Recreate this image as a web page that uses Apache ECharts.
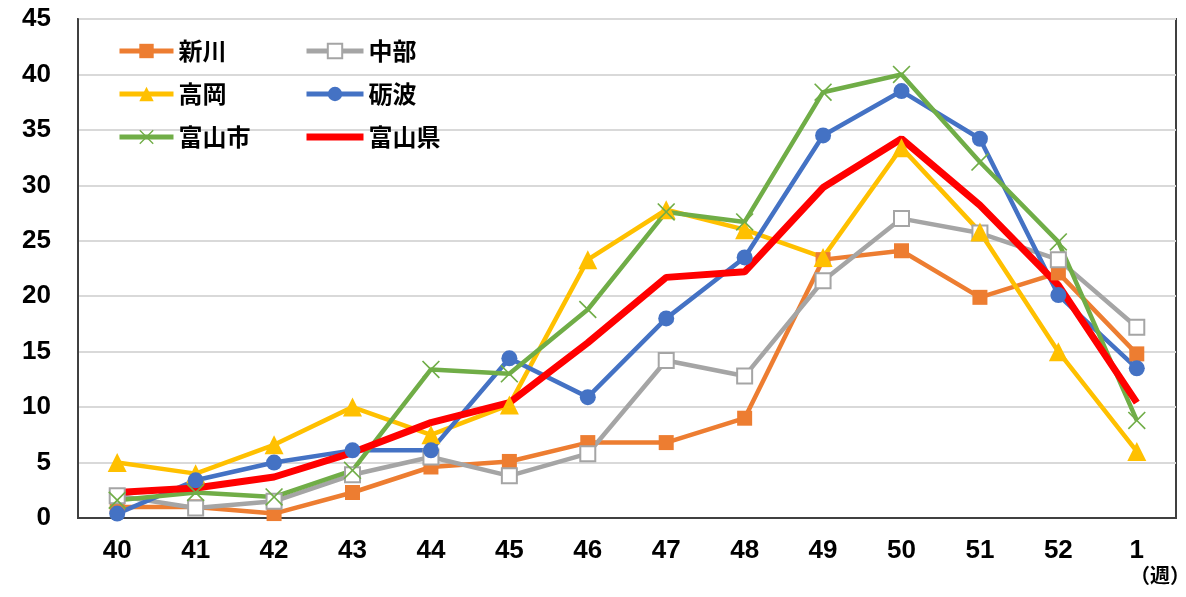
<!DOCTYPE html>
<html>
<head>
<meta charset="utf-8">
<script src="https://cdn.jsdelivr.net/npm/echarts@6/dist/echarts.min.js"></script>
<style>
  html, body { margin: 0; padding: 0; background: #fff; }
  #chart { width: 1186px; height: 597px; }
</style>
</head>
<body>
<div id="chart"></div>
<script>
// Weekly counts per region (weeks 40–52, then week 1)
const weeks = ['40', '41', '42', '43', '44', '45', '46', '47', '48', '49', '50', '51', '52', '1'];
const yTicks = [0, 5, 10, 15, 20, 25, 30, 35, 40, 45];

const shinkawa = [1.0, 1.0, 0.4, 2.3, 4.6, 5.1, 6.8, 6.8, 9.0, 23.3, 24.1, 19.9, 22.1, 14.8];
const chubu    = [2.0, 0.9, 1.5, 3.9, 5.5, 3.8, 5.8, 14.2, 12.8, 21.4, 27.0, 25.7, 23.3, 17.2];
const takaoka  = [5.0, 4.0, 6.6, 10.0, 7.5, 10.2, 23.3, 27.8, 26.0, 23.5, 33.4, 25.8, 15.0, 6.0];
const tonami   = [0.4, 3.4, 5.0, 6.1, 6.1, 14.4, 10.9, 18.0, 23.5, 34.5, 38.5, 34.2, 20.1, 13.5];
const toyamaCity = [1.6, 2.3, 1.9, 4.3, 13.4, 13.0, 18.8, 27.6, 26.7, 38.4, 40.0, 32.1, 24.9, 8.8];
const toyamaPref = [2.3, 2.7, 3.7, 5.9, 8.6, 10.4, 15.8, 21.7, 22.2, 29.8, 34.2, 28.2, 21.0, 10.4];

const seriesNames = ['新川', '中部', '高岡', '砺波', '富山市', '富山県'];

const crossPath = 'path://M0,1.3 L1.3,0 L10,8.7 L18.7,0 L20,1.3 L11.3,10 L20,18.7 L18.7,20 L10,11.3 L1.3,20 L0,18.7 L8.7,10 Z';

const numFont = '"Liberation Sans", Arial, sans-serif';
const cjkFont = '"Noto Sans CJK JP", "Noto Sans", sans-serif';

function lineSeries(name, data, color, symbol, size, extra) {
  return Object.assign({
    name: name,
    type: 'line',
    data: data,
    symbol: symbol,
    symbolSize: size,
    showAllSymbol: true,
    lineStyle: { color: color, width: 4.5 },
    itemStyle: { color: color },
    emphasis: { disabled: true }
  }, extra || {});
}

const chart = echarts.init(document.getElementById('chart'), null, { renderer: 'canvas' });

const legendText = { fontFamily: cjkFont, fontSize: 24, fontWeight: 'bold', color: '#000' };
const legendLine = { width: 5 };

chart.setOption({
  animation: false,
  backgroundColor: '#fff',
  grid: {
    left: 78, right: 10, top: 19, bottom: 79,
    show: true, borderColor: '#404040', borderWidth: 2
  },
  legend: [
    {
      data: [
        { name: '新川', lineStyle: legendLine },
        { name: '高岡', lineStyle: legendLine },
        { name: '富山市', lineStyle: legendLine }
      ],
      orient: 'vertical', left: 112, top: 34,
      itemWidth: 54, itemHeight: 18, itemGap: 19,
      textStyle: legendText, selectedMode: false
    },
    {
      data: [
        { name: '中部', lineStyle: legendLine },
        { name: '砺波', lineStyle: legendLine },
        { name: '富山県', lineStyle: { width: 7 }, itemStyle: { opacity: 0 } }
      ],
      orient: 'vertical', left: 298, top: 34,
      itemWidth: 57, itemHeight: 18, itemGap: 19,
      textStyle: legendText, selectedMode: false
    }
  ],
  xAxis: {
    type: 'category',
    data: weeks,
    boundaryGap: true,
    axisLine: { show: true, lineStyle: { color: '#404040', width: 2 } },
    axisTick: { show: false },
    axisLabel: {
      margin: 20, color: '#000',
      fontFamily: numFont, fontSize: 26, fontWeight: 'bold'
    },
    splitLine: { show: false }
  },
  yAxis: {
    type: 'value',
    min: yTicks[0], max: yTicks[yTicks.length - 1], interval: 5,
    axisLine: { show: true, lineStyle: { color: '#404040', width: 2 } },
    axisTick: { show: false },
    axisLabel: {
      margin: 27, color: '#000',
      fontFamily: numFont, fontSize: 26, fontWeight: 'bold'
    },
    splitLine: { show: true, lineStyle: { color: '#d9d9d9', width: 2 } }
  },
  graphic: [
    {
      type: 'text', left: 1130, top: 565,
      style: { text: '（週）', fontFamily: cjkFont, fontSize: 20, fontWeight: 'bold', fill: '#000' }
    }
  ],
  series: [
    lineSeries(seriesNames[0], shinkawa, '#ED7D31', 'rect', 15),
    lineSeries(seriesNames[1], chubu, '#A5A5A5', 'rect', 15, {
      itemStyle: { color: '#fff', borderColor: '#A5A5A5', borderWidth: 2 }
    }),
    lineSeries(seriesNames[2], takaoka, '#FFC000', 'triangle', 19),
    lineSeries(seriesNames[3], tonami, '#4472C4', 'circle', 16),
    lineSeries(seriesNames[4], toyamaCity, '#70AD47', crossPath, 18),
    lineSeries(seriesNames[5], toyamaPref, '#FF0000', 'none', 0, {
      lineStyle: { color: '#FF0000', width: 7 }
    })
  ]
});
</script>
</body>
</html>
